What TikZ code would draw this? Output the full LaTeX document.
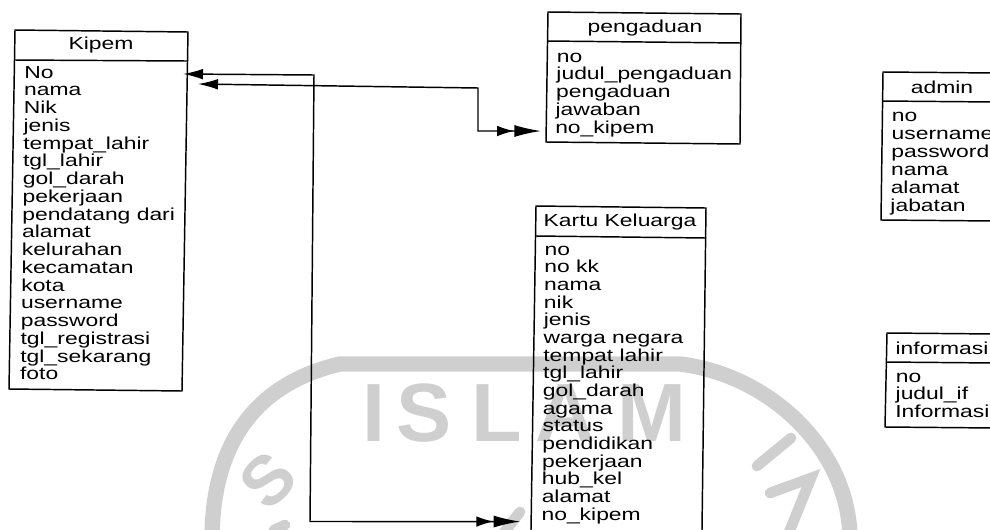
\documentclass[tikz,border=0pt]{standalone}
\usepackage{fontspec}
\setmainfont{Liberation Sans}[FakeStretch=1.32]
\newfontfamily\markfont{Liberation Sans}
\usetikzlibrary{arrows.meta}
\definecolor{markgray}{gray}{0.81}
\tikzset{
  entity/.style={line width=1.1pt,line join=miter},
  attr/.style={anchor=base west,inner sep=0pt,font=\fontsize{13}{16}\selectfont},
  title/.style={inner sep=0pt,font=\fontsize{13}{16}\selectfont},
  ref/.style={line width=1.1pt,{Latex[length=15pt,width=8pt]}-{Latex[length=13pt,width=8pt]Latex[length=20pt,width=9pt]}},
  seal/.style={markgray,line width=11.5pt},
  sealstroke/.style={markgray,line width=8pt,line cap=round},
  sealtext/.style={anchor=base,text=markgray,inner sep=0pt,font=\markfont\bfseries\fontsize{62}{62}\selectfont},
  sealsmall/.style={text=markgray,inner sep=0pt,font=\markfont\bfseries\fontsize{52}{52}\selectfont}
}
\begin{document}
\begin{tikzpicture}[x=0.75pt,y=-0.75pt]
\path[use as bounding box,clip] (0,0) rectangle (990,529);
\draw[seal] (212,540) .. controls (212,450) and (250,385) .. (340,364) -- (680,364) .. controls (770,375) and (850,450) .. (850,540);
\node[sealtext] (markI) at (374,441) {I};
\node[sealtext] (markS) at (424,441) {S};
\node[sealtext] (markL) at (497,441) {L};
\node[sealtext] (markA) at (565,441) {A};
\node[sealtext] (markM) at (652,441) {M};
\node[sealsmall,rotate=45] (markU) at (268,480) {S};
\draw[sealstroke] (274,530) -- (285,525);
\draw[sealstroke] (757,466) -- (791,438);
\draw[sealstroke] (770,493) -- (811,478) -- (788,535);
\draw[sealstroke] (502,535) -- (520,512);
\draw[entity] (15,30) -- (188,32) -- (182,391) -- (9,389) -- cycle;
\draw[entity] (14,60) -- (187,61);
\node[title] (kipem) at (101,45) {Kipem};
\foreach \t [count=\i] in {No,nama,Nik,jenis,tempat\_lahir,tgl\_lahir,gol\_darah,pekerjaan,pendatang dari,alamat,kelurahan,kecamatan,kota,username,password,tgl\_registrasi,tgl\_sekarang,foto}
  \node[attr] (kipem-\i) at ({24.3-0.25*\i},{78+17.75*(\i-1)}) {\t};
\draw[entity] (548,12) -- (741,14) -- (740,144) -- (546,142) -- cycle;
\draw[entity] (547,41) -- (741,43);
\node[title] (pengaduan) at (645,28) {pengaduan};
\foreach \t [count=\i] in {no,judul\_pengaduan,pengaduan,jawaban,no\_kipem}
  \node[attr] (pengaduan-\i) at ({557-0.4*\i},{62+17.9*(\i-1)}) {\t};
\draw[entity] (531,530) -- (536,206) -- (706,208) -- (702,530);
\draw[entity] (536,236) -- (706,238);
\node[title] (kartu) at (620,222) {Kartu Keluarga};
\foreach \t [count=\i] in {no,no kk,nama,nik,jenis,warga negara,tempat lahir,tgl\_lahir,gol\_darah,agama,status,pendidikan,pekerjaan,hub\_kel,alamat,no\_kipem}
  \node[attr] (kartu-\i) at ({544.5-0.2*\i},{255+17.67*(\i-1)}) {\t};
\draw[entity] (995,73) -- (883,72) -- (881,220) -- (995,221);
\draw[entity] (882,101) -- (995,102);
\node[title] (admin) at (942,87) {admin};
\foreach \t [count=\i] in {no,username,password,nama,alamat,jabatan}
  \node[attr] (admin-\i) at ({892-0.3*\i},{121+18*(\i-1)}) {\t};
\draw[entity] (995,334) -- (887,333) -- (885,427) -- (995,428);
\draw[entity] (886,362) -- (995,363);
\node[title] (informasi) at (942,348) {informasi};
\foreach \t [count=\i] in {no,judul\_if,Informasi}
  \node[attr] (informasi-\i) at ({896-0.3*\i},{382+17.5*(\i-1)}) {\t};
\coordinate (noTip) at (183,74);
\coordinate (namaTip) at (198,84);
\draw[ref] (noTip) -- (314,75) -- (310,521.5) -- ([shift={(-21,1.5)}]kartu-16.base west);
\draw[ref] (namaTip) -- (478,88) -- (478,131) -- ([shift={(-14,-2.6)}]pengaduan-5.base west);
\end{tikzpicture}
\end{document}
